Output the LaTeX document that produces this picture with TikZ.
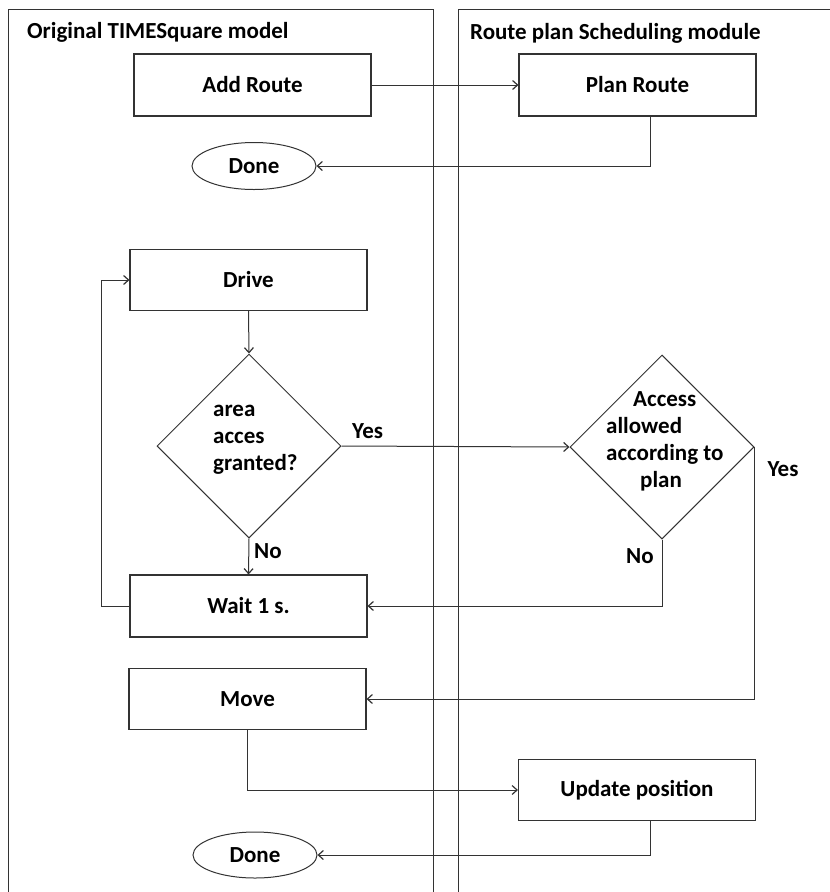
\documentclass[tikz,border=0pt]{standalone}
\usepackage{fontspec}
\setmainfont{Carlito}
\usetikzlibrary{shapes.geometric,arrows.meta}
\definecolor{linec}{HTML}{333333}
\tikzset{
  every node/.style={font=\fontsize{23}{27}\selectfont\bfseries, text=black},
  lane/.style={draw=linec, line width=1pt},
  box/.style={draw=linec, line width=1.1pt, rectangle, minimum width=237pt, minimum height=62pt, inner sep=0pt},
  term/.style={draw=linec, line width=1pt, ellipse, minimum width=124pt, minimum height=47pt, inner sep=0pt},
  dia/.style={draw=linec, line width=1pt, diamond, minimum width=184pt, minimum height=184pt, inner sep=0pt},
  conn/.style={draw=linec, line width=1pt},
  arr/.style={conn, -{Straight Barb[length=5pt,width=9pt,line width=1.2pt]}},
  lbl/.style={inner sep=0pt}
}
\begin{document}
\begin{tikzpicture}[x=1pt,y=-1pt]
\useasboundingbox (0,0) rectangle (830,892);
\begin{scope}
\clip (0,0) rectangle (830,892);
\draw[lane] (8,900) -- (8,9) -- (433,9) -- (433,900);
\draw[lane] (458,900) -- (458,9) -- (840,9);
\end{scope}

\node[lbl, anchor=west] (t1) at (27,32) {Original TIMESquare model};
\node[lbl, anchor=west] (t2) at (470,33) {Route plan Scheduling module};

\node[box] (add) at (252.5,85) {Add Route};
\node[box] (plan) at (637.5,85) {Plan Route};
\node[term] (done1) at (254,166) {Done};
\node[box, minimum height=61pt] (drive) at (248.5,280) {Drive};
\node[dia] (d1) at (249,446) {};
\node[lbl, align=left, anchor=west] (d1t) at (213,440) {area\\acces\\granted?};
\node[dia] (d2) at (662,447) {};
\node[lbl, align=left, anchor=west] (d2t) at (606,441) {\hspace*{27pt}Access\\allowed\\according to\\\hspace*{34pt}plan};
\node[box] (wait) at (248.5,606) {Wait 1 s.};
\node[box, minimum height=61pt] (move) at (247.5,699) {Move};
\node[box, minimum height=61pt] (upd) at (637,790) {Update position};
\node[term, minimum height=46pt] (done2) at (255,855) {Done};

\draw[arr] (add.east) -- (plan.west);
\draw[arr] ([xshift=12.5pt]plan.south) |- (done1.east);
\draw[arr] (drive.south) -- (d1.north);
\draw[arr] (d1.east) -- (d2.west);
\draw[arr] (d1.south) -- (wait.north);
\draw[arr] (d2.south) |- (wait.east);
\draw[arr] (d2.east) |- (move.east);
\draw[arr] (wait.west) -- ++(-28,0) |- (drive.west);
\draw[arr] (move.south) |- (upd.west);
\draw[arr] ([xshift=13pt]upd.south) |- (done2.east);

\node[lbl, anchor=west] (yes1) at (352,431) {Yes};
\node[lbl, anchor=west] (no1) at (254,551) {No};
\node[lbl] (no2) at (640,556) {No};
\node[lbl] (yes2) at (783,469) {Yes};
\end{tikzpicture}
\end{document}
